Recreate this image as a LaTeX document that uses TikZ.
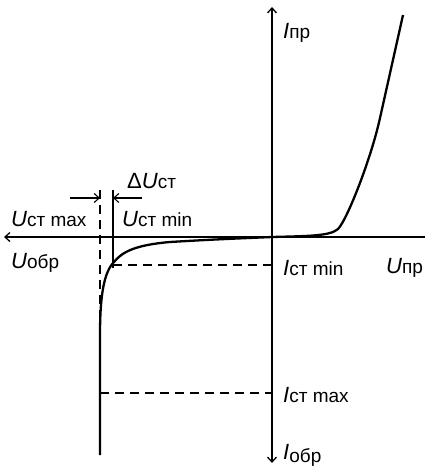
\documentclass[tikz,border=0pt]{standalone}
\usepackage{fontspec}
\setmainfont{Liberation Sans}
\usetikzlibrary{arrows.meta}

\newcommand{\vlab}[2]{{\fontsize{22}{24}\selectfont\itshape #1}{\fontsize{19}{21}\selectfont #2}}

\begin{document}
\begin{tikzpicture}[x=1pt,y=-1pt,>={Straight Barb[length=5pt,width=9pt]},
  axis/.style={line width=1.3pt},
  guide/.style={line width=1.1pt,dash pattern=on 9pt off 6pt},
  curve/.style={line width=2.3pt,line join=round},
  lbl/.style={inner sep=0pt,anchor=west}]
\useasboundingbox (0,0) rectangle (425,468);
% axes
\coordinate (O) at (272,237);
\coordinate (Itop) at (272,7);
\coordinate (Ibot) at (272,463);
\coordinate (Uleft) at (4,237);
\coordinate (Uright) at (425,237);
\draw[axis,<->] (Ibot)--(Itop);
\draw[axis,<-] (Uleft)--(Uright);
% stabilisation limits
\coordinate (Smax) at (100,190);
\coordinate (Smin) at (113,190);
\coordinate (Kmin) at (113,265);
\coordinate (Kmax) at (100,393);
\draw[guide] (Smax)--(100,340);
\draw[line width=1.1pt] (Smin)--(113,268);
\draw[guide] (Kmin)--(Kmin -| O);
\draw[guide] (Kmax)--(Kmax -| O);
\coordinate (dl) at (70,198);
\coordinate (dr) at (142,198);
\draw[line width=1.1pt,->] (dl)--(dl -| Smax);
\draw[line width=1.1pt,->] (dr)--(dr -| Smin);
% characteristic
\draw[curve] (100,455)--(100,335)
  ..controls(100,295)and(104,272)..(114,262)
  ..controls(122,252)and(135,245)..(170,242)
  ..controls(220,239)and(250,238)..(O)
  ..controls(310,236)and(330,236)..(338,229)
  ..controls(347,220)and(371,159)..(380,118)--(403,15);
% labels
\node[lbl] (Ipr) at (283,33) {\vlab{I}{пр}};
\node[lbl] (Upr) at (386,268) {\vlab{U}{пр}};
\node[lbl] (Uobr) at (11,263) {\vlab{U}{обр}};
\node[lbl] (Iobr) at (283,455) {\vlab{I}{\raisebox{-3pt}{обр}}};
\node[lbl] (Ustmax) at (11,219) {\vlab{U}{ст max}};
\node[lbl] (Ustmin) at (122,219) {\vlab{U}{ст min}};
\node[lbl] (dU) at (127,181) {{\fontsize{22}{24}\selectfont Δ}\vlab{U}{ст}};
\node[lbl] (Istmin) at (283,268) {\vlab{I}{ст min}};
\node[lbl] (Istmax) at (283,395) {\vlab{I}{ст max}};
\end{tikzpicture}
\end{document}
